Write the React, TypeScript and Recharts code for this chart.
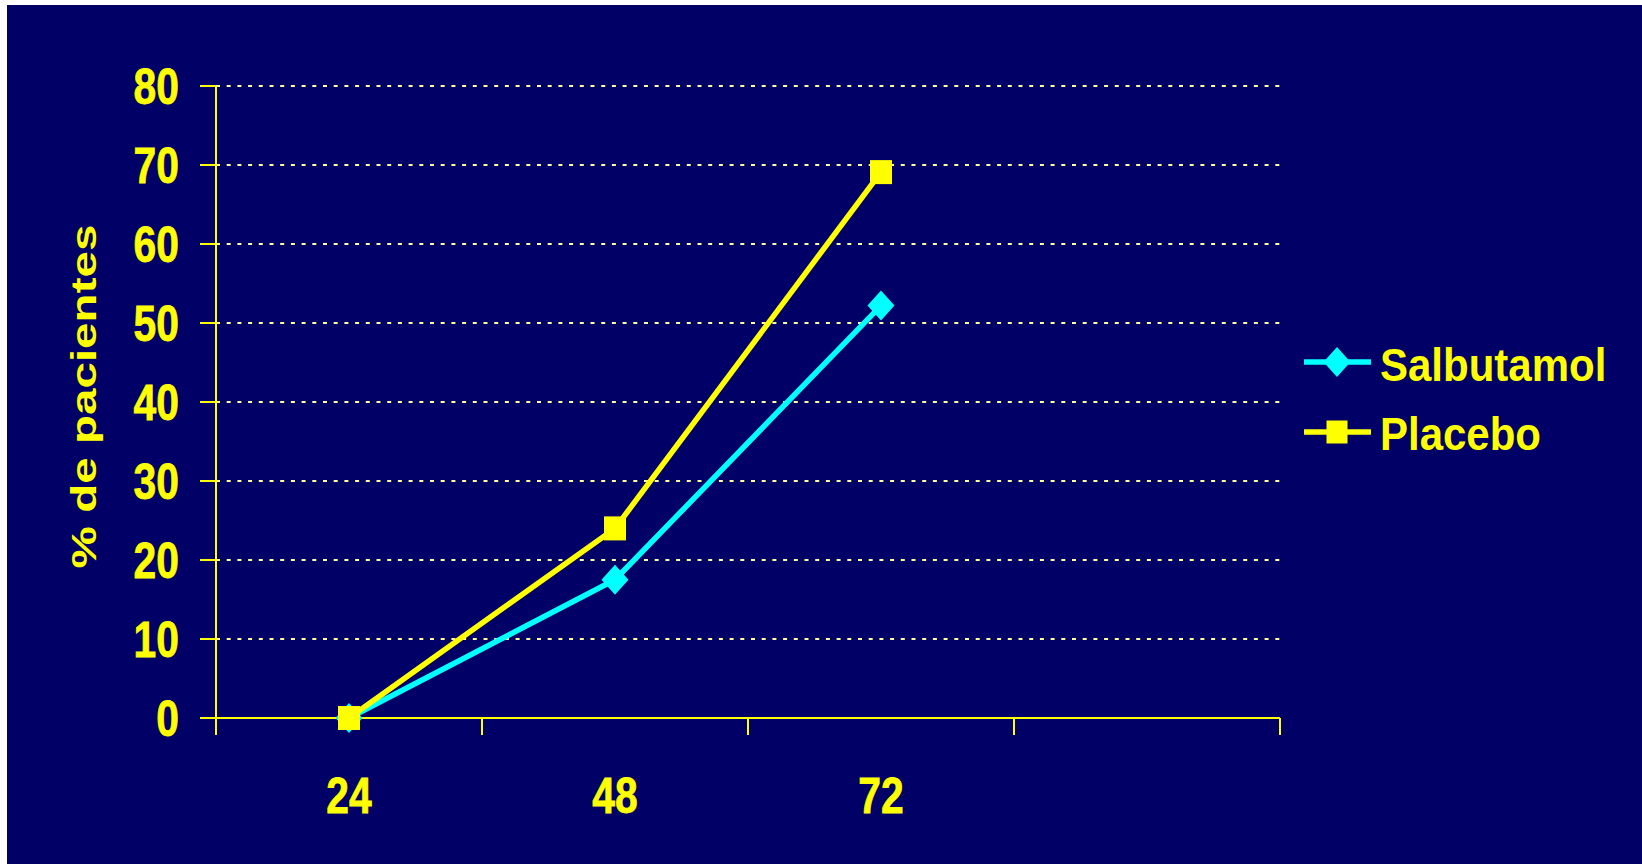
import React from 'react';
import { ComposedChart, Line, XAxis, YAxis, CartesianGrid } from 'recharts';

const categories = ['24', '48', '72', ''];
const salbutamol: (number | null)[] = [0, 17.5, 52.2, null];
const placebo: (number | null)[] = [0, 24, 69.1, null];
const yTicks = [0, 10, 20, 30, 40, 50, 60, 70, 80];
const seriesNames = ['Salbutamol', 'Placebo'];
const seriesColors = ['#00FFFF', '#FFFF00'];
const yLabel = '% de pacientes';

const data = categories.map((c, i) => ({ hour: c, salbutamol: salbutamol[i], placebo: placebo[i] }));

const FONT = '"Liberation Sans", Arial, sans-serif';
const YELLOW = '#FFFF00';
const NAVY = '#000066';

const YTick = (props: any) => {
  const { x, y, payload } = props;
  return (
    <text
      transform={`translate(${x},${y}) scale(1.02,1.26)`}
      x={0}
      y={14.3}
      textAnchor="end"
      fill={YELLOW}
      stroke={YELLOW}
      strokeWidth={0.6}
      fontFamily={FONT}
      fontWeight="bold"
      fontSize={40}
    >
      {payload.value}
    </text>
  );
};

const XTick = (props: any) => {
  const { x, y, payload } = props;
  const idx = props.index ?? payload.index;
  const off = payload?.offset ?? 133;
  return (
    <g>
      <line x1={x - off} x2={x - off} y1={y} y2={y + 17} stroke={YELLOW} strokeWidth={2} />
      {idx === categories.length - 1 && (
        <line x1={x + off} x2={x + off} y1={y} y2={y + 17} stroke={YELLOW} strokeWidth={2} />
      )}
      <text
        transform={`translate(${x},${y + 76.5}) scale(1.02,1.26)`}
        x={0}
        y={14.3}
        textAnchor="middle"
        fill={YELLOW}
        stroke={YELLOW}
        strokeWidth={0.6}
        fontFamily={FONT}
        fontWeight="bold"
        fontSize={40}
      >
        {payload.value}
      </text>
    </g>
  );
};

const YLabel = (props: any) => {
  const vb = props.viewBox || { x: 0, y: 81, width: 209, height: 632 };
  const cx = vb.x + 80;
  const cy = vb.y + vb.height / 2 - 5.5;
  return (
    <text
      transform={`translate(${cx},${cy}) rotate(-90) scale(1.36,1)`}
      x={0}
      y={9}
      textAnchor="middle"
      fill={YELLOW}
      fontFamily={FONT}
      fontWeight="bold"
      fontSize={35}
    >
      {yLabel}
    </text>
  );
};

const Diamond = (props: any) => {
  const { cx, cy, index } = props;
  if (cx == null || cy == null) return <g key={`d${index}`} />;
  return (
    <path
      key={`d${index}`}
      d={`M${cx},${cy - 15} L${cx + 13.5},${cy} L${cx},${cy + 15} L${cx - 13.5},${cy} Z`}
      fill={seriesColors[0]}
    />
  );
};

const Square = (props: any) => {
  const { cx, cy, index } = props;
  if (cx == null || cy == null) return <g key={`s${index}`} />;
  return <rect key={`s${index}`} x={cx - 11} y={cy - 12} width={22} height={24} fill={seriesColors[1]} />;
};

const LegendBox = () => (
  <svg
    width={340}
    height={140}
    style={{ position: 'absolute', left: 1297, top: 325, overflow: 'visible' }}
  >
    {seriesNames.map((name, i) => {
      const ly = i === 0 ? 32 : 102;
      const baseline = i === 0 ? 51.3 : 119.8;
      return (
        <g key={name}>
          <line x1={0} x2={67} y1={ly} y2={ly} stroke={seriesColors[i]} strokeWidth={5.5} />
          {i === 0 ? (
            <path d={`M33,${ly - 15} L46.5,${ly} L33,${ly + 15} L19.5,${ly} Z`} fill={seriesColors[0]} />
          ) : (
            <rect x={22.5} y={ly - 11.5} width={21} height={23} fill={seriesColors[1]} />
          )}
          <text
            transform={`translate(76,${baseline}) scale(1,1.12)`}
            x={0}
            y={0}
            fill={YELLOW}
            fontFamily={FONT}
            fontWeight="bold"
            fontSize={42}
          >
            {name}
          </text>
        </g>
      );
    })}
  </svg>
);

export default function App() {
  return (
    <div style={{ position: 'absolute', left: 0, top: 0, width: 1642, height: 864, background: '#ffffff' }}>
      <div style={{ position: 'absolute', left: 7, top: 5, width: 1635, height: 859, background: NAVY }}>
        <ComposedChart
          width={1635}
          height={859}
          data={data}
          margin={{ top: 81, right: 362, bottom: 46, left: 0 }}
        >
          <CartesianGrid
            horizontal
            vertical={false}
            stroke="#FFFF99"
            strokeWidth={2}
            strokeDasharray="4 6.7"
          />
          <XAxis
            dataKey="hour"
            type="category"
            scale="band"
            interval={0}
            height={100}
            axisLine={{ stroke: YELLOW, strokeWidth: 2 }}
            tickLine={false}
            tickSize={0}
            tickMargin={0}
            tick={<XTick />}
          />
          <YAxis
            type="number"
            domain={[0, 80]}
            ticks={yTicks}
            interval={0}
            width={209}
            axisLine={{ stroke: YELLOW, strokeWidth: 2 }}
            tickLine={{ stroke: YELLOW, strokeWidth: 2 }}
            tickSize={16}
            tickMargin={21}
            tick={<YTick />}
            label={<YLabel />}
          />
          <Line
            dataKey="salbutamol"
            name={seriesNames[0]}
            stroke={seriesColors[0]}
            strokeWidth={5.5}
            dot={<Diamond />}
            activeDot={false}
            isAnimationActive={false}
          />
          <Line
            dataKey="placebo"
            name={seriesNames[1]}
            stroke={seriesColors[1]}
            strokeWidth={5.5}
            dot={<Square />}
            activeDot={false}
            isAnimationActive={false}
          />
        </ComposedChart>
        <LegendBox />
      </div>
    </div>
  );
}
